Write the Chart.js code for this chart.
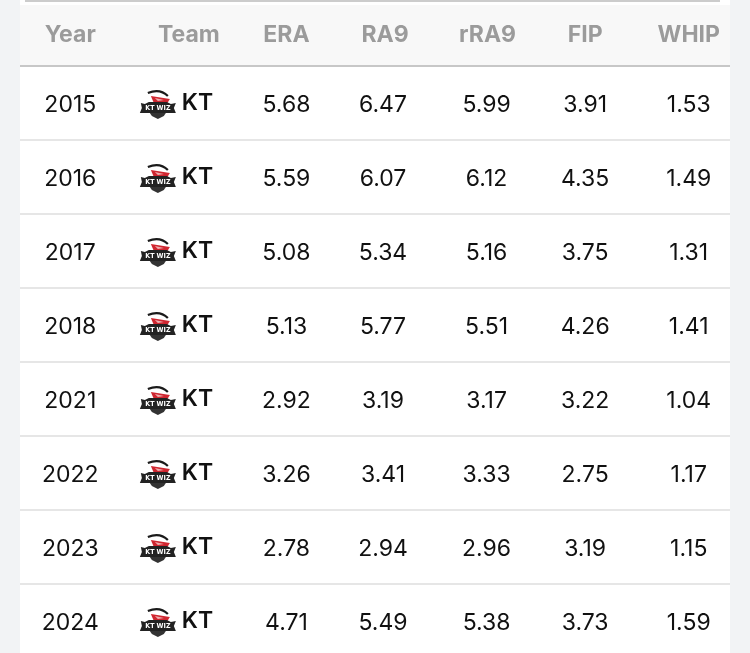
<!DOCTYPE html>
<html><head><meta charset="utf-8">
<script src="https://cdn.jsdelivr.net/npm/chart.js@4.4.1/dist/chart.umd.min.js"></script>
<style>
html,body{margin:0;padding:0;background:#f2f3f5;overflow:hidden;}
#wrap{position:relative;width:750px;height:700px;}
</style></head><body>
<div id="wrap"><canvas id="c"></canvas></div>
<script>
// ---- data ----
const columns = ['Year','Team','ERA','RA9','rRA9','FIP','WHIP'];
const years   = ['2015','2016','2017','2018','2021','2022','2023','2024'];
const teams   = ['KT','KT','KT','KT','KT','KT','KT','KT'];
const era     = ['5.68','5.59','5.08','5.13','2.92','3.26','2.78','4.71'];
const ra9     = ['6.47','6.07','5.34','5.77','3.19','3.41','2.94','5.49'];
const rra9    = ['5.99','6.12','5.16','5.51','3.17','3.33','2.96','5.38'];
const fip     = ['3.91','4.35','3.75','4.26','3.22','2.75','3.19','3.73'];
const whip    = ['1.53','1.49','1.31','1.41','1.04','1.17','1.15','1.59'];

const cellValues = [years, teams, era, ra9, rra9, fip, whip];

// ---- styles ----
const FONT = 'Inter, "Liberation Sans", Arial, sans-serif';
const headerDx = [-5, 11, 6, 2, 2, -3, -2];
const cellDx   = [-5, 0, 6, 0, 1, -3, -2];

const datasets = columns.map((col, c) => ({
  label: col,
  data: years.map((yr, r) => ({x: col, y: yr, text: cellValues[c][r]})),
  pointRadius: 0,
  pointHoverRadius: 0
}));

function drawLogo(ctx, x, y) {
  ctx.save();
  // swoosh
  ctx.strokeStyle = '#1a1a1a';
  ctx.lineWidth = 2.2;
  ctx.beginPath();
  ctx.moveTo(x + 8, y + 5);
  ctx.quadraticCurveTo(x + 20, y + 0, x + 28, y + 8);
  ctx.stroke();
  // red wing
  ctx.fillStyle = '#cf2630';
  ctx.beginPath();
  ctx.moveTo(x + 11, y + 8);
  ctx.lineTo(x + 30, y + 11);
  ctx.lineTo(x + 27, y + 16);
  ctx.lineTo(x + 14, y + 15);
  ctx.closePath();
  ctx.fill();
  ctx.fillStyle = '#f0b0b0';
  ctx.beginPath();
  ctx.moveTo(x + 15, y + 10);
  ctx.lineTo(x + 24, y + 12);
  ctx.lineTo(x + 18, y + 13);
  ctx.closePath();
  ctx.fill();
  // band
  ctx.fillStyle = '#222222';
  ctx.beginPath();
  ctx.moveTo(x + 1, y + 15);
  ctx.lineTo(x + 5, y + 16);
  ctx.lineTo(x + 9, y + 14);
  ctx.lineTo(x + 27, y + 14);
  ctx.lineTo(x + 31, y + 16);
  ctx.lineTo(x + 36, y + 15);
  ctx.lineTo(x + 34, y + 20);
  ctx.lineTo(x + 36, y + 25);
  ctx.lineTo(x + 0, y + 25);
  ctx.lineTo(x + 2, y + 20);
  ctx.closePath();
  ctx.fill();
  ctx.fillStyle = '#ffffff';
  ctx.font = 'bold 7px "DejaVu Sans Condensed", "DejaVu Sans", sans-serif';
  ctx.textAlign = 'center';
  ctx.textBaseline = 'middle';
  ctx.fillText('KT WIZ', x + 18, y + 20);
  // shield
  ctx.fillStyle = '#333333';
  ctx.beginPath();
  ctx.moveTo(x + 10, y + 25);
  ctx.lineTo(x + 26, y + 25);
  ctx.lineTo(x + 24, y + 28);
  ctx.lineTo(x + 18, y + 31);
  ctx.lineTo(x + 12, y + 28);
  ctx.closePath();
  ctx.fill();
  ctx.restore();
}

const tablePlugin = {
  id: 'tablePlugin',
  beforeDraw(chart) {
    const ctx = chart.ctx;
    const yS = chart.scales.y;
    ctx.save();
    ctx.fillStyle = '#ffffff';
    ctx.fillRect(20, 0, 710, chart.height);
    ctx.fillStyle = '#f8f8f8';
    ctx.fillRect(20, 5, 710, yS.top - 5);
    ctx.fillStyle = '#cccccc';
    ctx.fillRect(25, 0, 695, 2);
    ctx.fillStyle = '#c7c7c7';
    ctx.fillRect(20, yS.top - 1, 710, 2);
    ctx.fillStyle = '#e6e6e6';
    for (let i = 0; i < years.length - 1; i++) {
      const a = yS.getPixelForValue(i), b = yS.getPixelForValue(i + 1);
      const m = Math.round((a + b) / 2);
      ctx.fillRect(20, m - 1, 710, 2);
    }
    ctx.restore();
  },
  afterDatasetsDraw(chart) {
    const ctx = chart.ctx;
    const xS = chart.scales.x;
    ctx.save();
    ctx.font = 'bold 23px ' + FONT;
    ctx.fillStyle = '#9b9b9b';
    ctx.textAlign = 'center';
    ctx.textBaseline = 'alphabetic';
    columns.forEach((col, c) => {
      ctx.fillText(col, xS.getPixelForValue(c) + headerDx[c], 42);
    });
    chart.data.datasets.forEach((ds, c) => {
      const meta = chart.getDatasetMeta(c);
      meta.data.forEach((pt, r) => {
        const txt = ds.data[r].text;
        const px = pt.x + cellDx[c], py = pt.y;
        ctx.fillStyle = '#111111';
        if (c === 1) {
          drawLogo(ctx, px - 38, py - 15);
          ctx.font = '600 23px ' + FONT;
          ctx.textAlign = 'left';
          ctx.fillText(txt, px + 4, py + 7);
        } else {
          ctx.font = '23px ' + FONT;
          ctx.textAlign = 'center';
          ctx.fillText(txt, px, py + 8.5);
        }
      });
    });
    ctx.restore();
  }
};

new Chart(document.getElementById('c'), {
  type: 'scatter',
  data: { datasets },
  options: {
    responsive: true,
    maintainAspectRatio: false,
    animation: false,
    events: [],
    layout: { padding: { left: 24, right: 8, top: 66, bottom: 42 } },
    plugins: { legend: { display: false }, tooltip: { enabled: false } },
    scales: {
      x: { type: 'category', labels: columns, offset: true, display: false },
      y: { type: 'category', labels: years, offset: true, display: false }
    }
  },
  plugins: [tablePlugin]
});
</script>
</body></html>
